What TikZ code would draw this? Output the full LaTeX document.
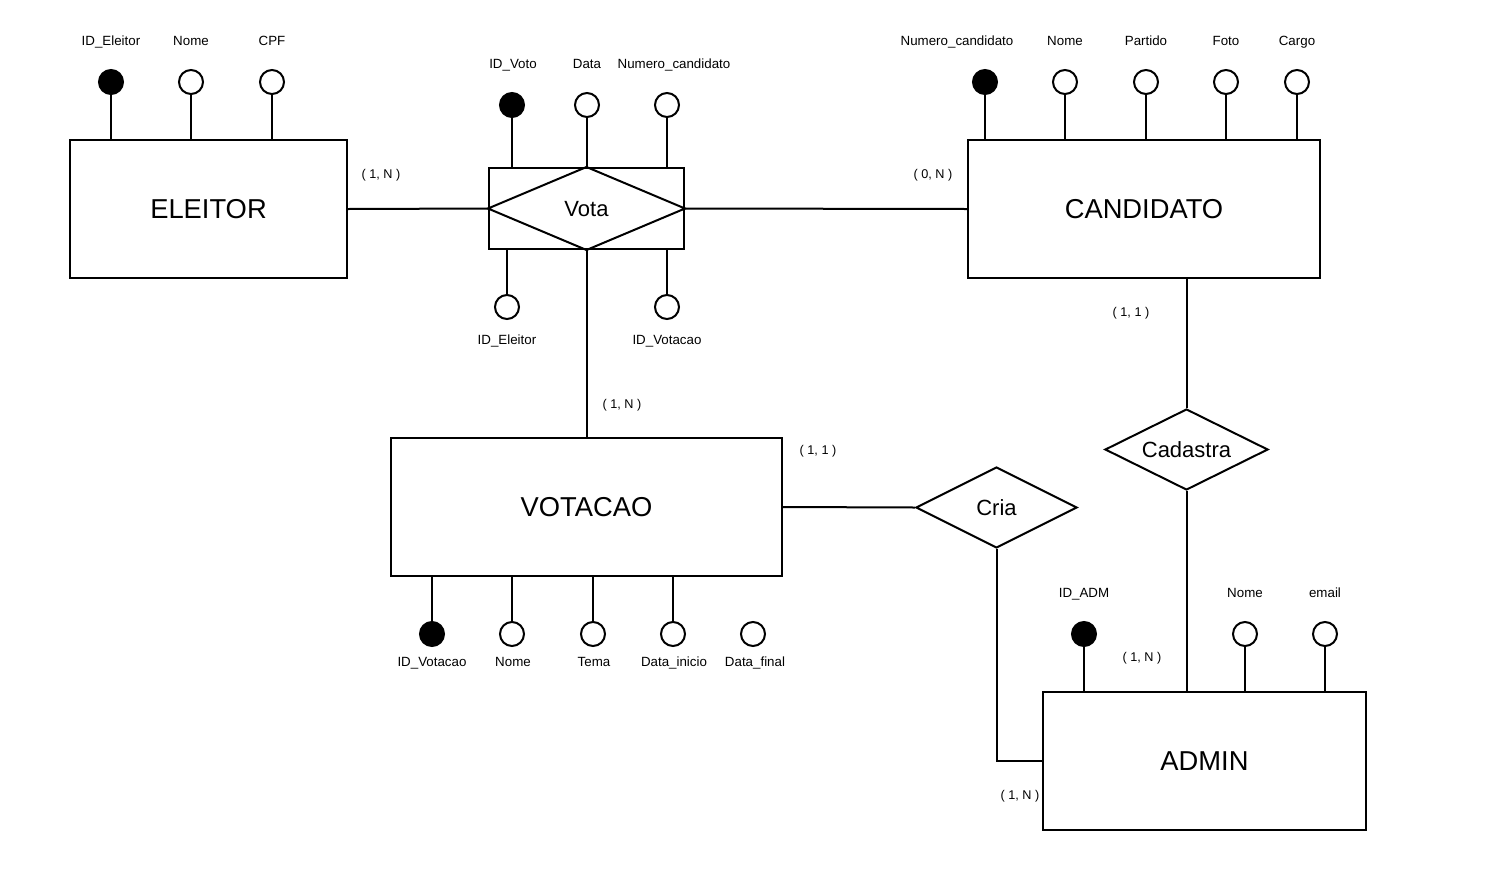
\documentclass[tikz,border=0pt]{standalone}
\usepackage{fontspec}
\setmainfont{Liberation Sans}
\usetikzlibrary{shapes.geometric}
\begin{document}
\begin{tikzpicture}[x=0.75pt,y=-0.75pt,line width=1.5pt,
  entity/.style={draw,rectangle,inner sep=0pt,font=\fontsize{20.5}{24}\selectfont},
  rel/.style={draw,diamond,aspect=2,inner sep=0pt,font=\fontsize{16.5}{20}\selectfont},
  relbox/.style={draw,rectangle,inner sep=0pt,minimum width=146.25pt,minimum height=60.75pt},
  keyattr/.style={draw,circle,fill=black,minimum size=18pt,inner sep=0pt},
  attr/.style={draw,circle,fill=white,minimum size=18pt,inner sep=0pt},
  lbl/.style={inner sep=1pt,text height=7.3pt,text depth=0pt,font=\fontsize{10}{12}\selectfont},
  card/.style={inner sep=1pt,text height=7pt,text depth=0pt,font=\fontsize{9.5}{11}\selectfont}]
\fill[white] (0,0) rectangle (1492,875);
\useasboundingbox (0,0) rectangle (1492,875);

% entities
\node[entity,minimum width=207.75pt,minimum height=103.5pt] (eleitor) at (208.5,209) {ELEITOR};
\node[entity,minimum width=264pt,minimum height=103.5pt] (candidato) at (1144,209) {CANDIDATO};
\node[entity,minimum width=293.25pt,minimum height=103.5pt] (votacao) at (586.5,507) {VOTACAO};
\node[entity,minimum width=242.25pt,minimum height=103.5pt] (admin) at (1204.5,761) {ADMIN};

% associative entity Vota
\node[relbox] (votabox) at (586.5,208.5) {};
\draw (votabox.west) -- (votabox.north) -- (votabox.east) -- (votabox.south) -- cycle;
\node[font=\fontsize{16.5}{20}\selectfont,inner sep=0pt] (vota) at (586.5,209.5) {Vota};

% relationships
\node[rel,minimum width=120.75pt,minimum height=60.75pt] (cria) at (996.5,507.5) {Cria};
\node[rel,minimum width=122.25pt,minimum height=60.75pt] (cadastra) at (1186.5,449.5) {Cadastra};

% ELEITOR attributes
\node[keyattr] (e1) at (111,82) {};
\node[attr] (e2) at (191,82) {};
\node[attr] (e3) at (272,82) {};
\node[lbl] (e1l) at (111,41) {ID\_Eleitor};
\node[lbl] (e2l) at (191,41) {Nome};
\node[lbl] (e3l) at (272,41) {CPF};
\foreach \a in {e1,e2,e3} \draw (\a.south) -- (\a.south |- eleitor.north);

% Vota attributes
\node[keyattr] (v1) at (512,105) {};
\node[attr] (v2) at (587,105) {};
\node[attr] (v3) at (667,105) {};
\node[lbl] (v1l) at (513,64) {ID\_Voto};
\node[lbl] (v2l) at (587,64) {Data};
\node[lbl] (v3l) at (674,64) {Numero\_candidato};
\foreach \a in {v1,v2,v3} \draw (\a.south) -- (\a.south |- votabox.north);
\node[attr] (v4) at (507,307) {};
\node[attr] (v5) at (667,307) {};
\node[lbl] (v4l) at (507,340) {ID\_Eleitor};
\node[lbl] (v5l) at (667,340) {ID\_Votacao};
\foreach \a in {v4,v5} \draw (\a.north) -- (\a.north |- votabox.south);

% CANDIDATO attributes
\node[keyattr] (c1) at (985,82) {};
\node[attr] (c2) at (1065,82) {};
\node[attr] (c3) at (1146,82) {};
\node[attr] (c4) at (1226,82) {};
\node[attr] (c5) at (1297,82) {};
\node[lbl] (c1l) at (957,41) {Numero\_candidato};
\node[lbl] (c2l) at (1065,41) {Nome};
\node[lbl] (c3l) at (1146,41) {Partido};
\node[lbl] (c4l) at (1226,41) {Foto};
\node[lbl] (c5l) at (1297,41) {Cargo};
\foreach \a in {c1,c2,c3,c4,c5} \draw (\a.south) -- (\a.south |- candidato.north);

% VOTACAO attributes
\node[keyattr] (t1) at (432,634) {};
\node[attr] (t2) at (512,634) {};
\node[attr] (t3) at (593,634) {};
\node[attr] (t4) at (673,634) {};
\node[attr] (t5) at (753,634) {};
\node[lbl] (t1l) at (432,662) {ID\_Votacao};
\node[lbl] (t2l) at (513,662) {Nome};
\node[lbl] (t3l) at (594,662) {Tema};
\node[lbl] (t4l) at (674,662) {Data\_inicio};
\node[lbl] (t5l) at (755,662) {Data\_final};
\foreach \a in {t1,t2,t3,t4} \draw (\a.north) -- (\a.north |- votacao.south);

% ADMIN attributes
\node[keyattr] (d1) at (1084,634) {};
\node[attr] (d2) at (1245,634) {};
\node[attr] (d3) at (1325,634) {};
\node[lbl] (d1l) at (1084,593) {ID\_ADM};
\node[lbl] (d2l) at (1245,593) {Nome};
\node[lbl] (d3l) at (1325,593) {email};
\foreach \a in {d1,d2,d3} \draw (\a.south) -- (\a.south |- admin.north);

% connectors
\draw (eleitor.east) -- (votabox.west);
\draw (votabox.east) -- (candidato.west);
\draw (votabox.south) -- (votacao.north);
\draw (votacao.east) -- (cria.west);
\draw (cria.south) |- (admin.west);
\draw (cadastra.north |- candidato.south) -- (cadastra.north);
\draw (cadastra.south) -- (cadastra.south |- admin.north);

% cardinalities
\node[card] (k1) at (381,174) {( 1, N )};
\node[card] (k2) at (933,174) {( 0, N )};
\node[card] (k3) at (622,404) {( 1, N )};
\node[card] (k4) at (818,450) {( 1, 1 )};
\node[card] (k5) at (1131,312) {( 1, 1 )};
\node[card] (k6) at (1142,657) {( 1, N )};
\node[card] (k7) at (1020,795) {( 1, N )};
\end{tikzpicture}
\end{document}
